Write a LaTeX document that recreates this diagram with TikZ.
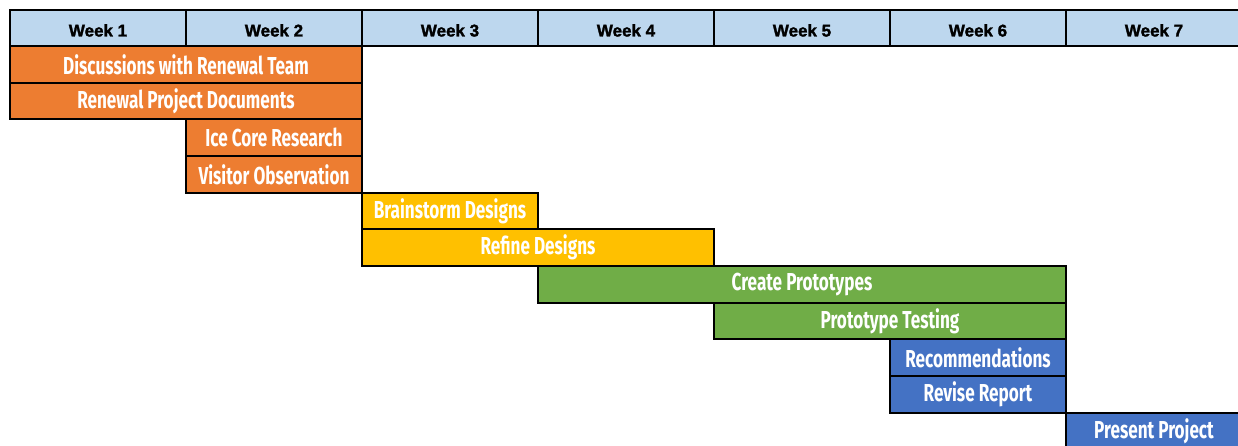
\documentclass[tikz,border=0pt]{standalone}
\usepackage{fontspec}
\newfontfamily\headfont{Liberation Sans}[FakeBold=1.6]
\newfontfamily\barfont{Fira Sans}[FakeStretch=0.70]
\definecolor{hdr}{HTML}{BDD7EE}
\definecolor{org}{HTML}{ED7D31}
\definecolor{yel}{HTML}{FFC000}
\definecolor{grn}{HTML}{70AD47}
\definecolor{blu}{HTML}{4472C4}
\tikzset{
  cell/.style={draw=black, line width=2.2pt, fill=hdr, inner sep=0pt, outer sep=0pt,
    minimum width=176pt, minimum height=36pt, anchor=north west,
    text height=17pt, text depth=0pt,
    font=\headfont\bfseries\fontsize{17}{17}\selectfont, text=black},
  bar/.style={draw=black, line width=2.2pt, inner sep=0pt, outer sep=0pt,
    minimum height=36.67pt, anchor=north west,
    font=\barfont\bfseries\fontsize{24.5}{24.5}\selectfont, text=white},
}
\begin{document}
\begin{tikzpicture}[x=1pt,y=-1pt]
\useasboundingbox (0,0) rectangle (1238,446);
\fill[white] (0,0) rectangle (1238,446);
\clip (0,0) rectangle (1238,446);
\foreach \i in {1,...,7}{
  \node[cell] (h\i) at ({10+(\i-1)*176},10) {Week \i};
}
\node[bar, fill=org, minimum width=352pt] (t1) at (10,46) {Discussions with Renewal Team};
\node[bar, fill=org, minimum width=352pt] (t2) at (10,82.67) {Renewal Project Documents};
\node[bar, fill=org, minimum width=176pt] (t3) at (186,119.33) {Ice Core Research};
\node[bar, fill=org, minimum width=176pt] (t4) at (186,156) {Visitor Observation};
\node[bar, fill=yel, minimum width=176pt] (t5) at (362,192.67) {Brainstorm Designs};
\node[bar, fill=yel, minimum width=352pt] (t6) at (362,229.33) {Refine Designs};
\node[bar, fill=grn, minimum width=528pt] (t7) at (538,266) {Create Prototypes};
\node[bar, fill=grn, minimum width=352pt] (t8) at (714,302.67) {Prototype Testing};
\node[bar, fill=blu, minimum width=176pt] (t9) at (890,339.33) {Recommendations};
\node[bar, fill=blu, minimum width=176pt] (t10) at (890,376) {Revise Report};
\node[bar, fill=blu, minimum width=176pt] (t11) at (1066,412.67) {Present Project};
\end{tikzpicture}
\end{document}
